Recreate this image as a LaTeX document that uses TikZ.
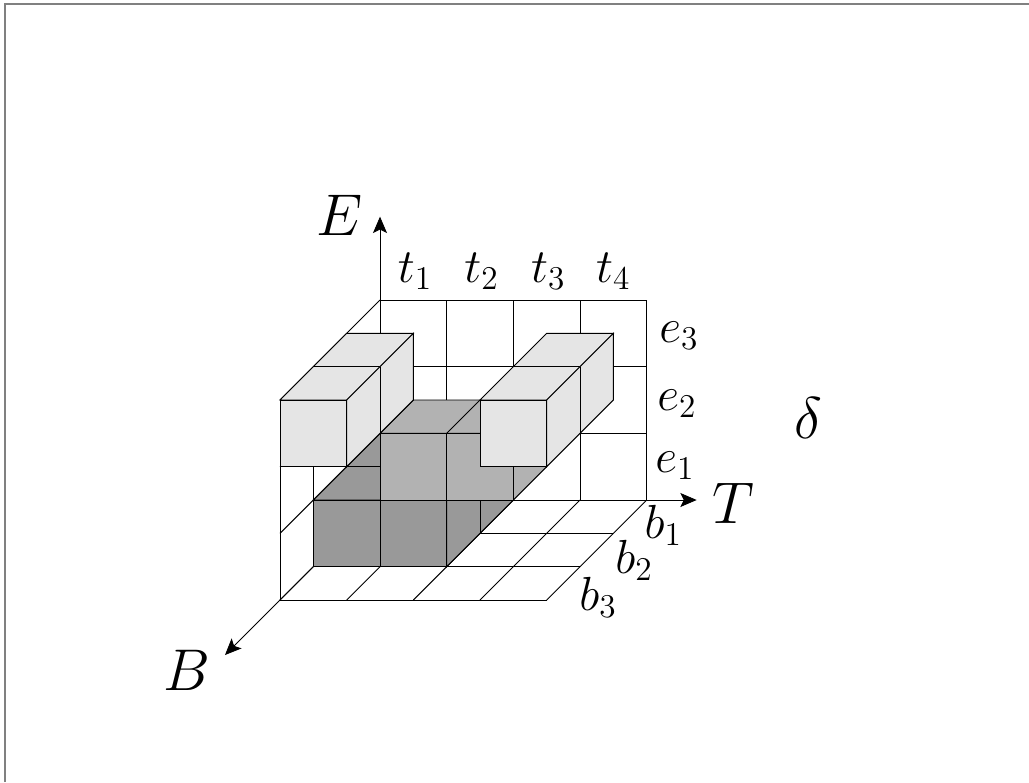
\documentclass[tikz,border=0pt]{standalone}
\usepackage{amsmath,amssymb}
\usetikzlibrary{arrows.meta}

\begin{document}
\begin{tikzpicture}[
    x={(2cm,0cm)}, y={(0cm,2cm)}, z={(-1cm,-1cm)},
    gridline/.style={draw=black, line width=0.8pt},
    lowcube/.style={draw=black, line width=0.8pt, fill=black!40},
    midcube/.style={draw=black, line width=0.8pt, fill=black!30},
    topcube/.style={draw=black, line width=0.8pt, fill=black!10},
    axis/.style={-{Stealth[length=14pt,width=12pt,inset=3pt]}, line width=0.7pt},
    biglabel/.style={inner sep=0pt, font=\Huge, scale=2.02, transform shape},
    smalllabel/.style={inner sep=0pt, font=\huge, scale=1.97, transform shape}
]
\useasboundingbox (-11.4cm,-8.46cm) rectangle (19.47cm,15cm);
\draw[gray, line width=1pt] (-11.25cm,-8.46cm) -- (-11.25cm,14.88cm) -- (19.47cm,14.88cm);

% back wall, floor and left wall
\foreach \t in {0,...,4} {
    \draw[gridline] (\t,0,0) -- (\t,3,0);
    \draw[gridline] (\t,0,0) -- (\t,0,3);
}
\foreach \e in {0,...,3} {
    \draw[gridline] (0,\e,0) -- (4,\e,0);
    \draw[gridline] (0,\e,0) -- (0,\e,3);
}
\foreach \b in {1,2,3} {
    \draw[gridline] (0,0,\b) -- (4,0,\b);
    \draw[gridline] (0,0,\b) -- (0,3,\b);
}

% lower cubes
\filldraw[lowcube] (0,1,2) -- (0,1,0) -- (2,1,0) -- (2,1,2) -- cycle;
\draw[gridline] (0,1,1) -- (2,1,1);
\filldraw[lowcube] (2,0,2) -- (2,0,0) -- (2,1,0) -- (2,1,2) -- cycle;
\draw[gridline] (2,0,1) -- (2,1,1);
\filldraw[lowcube] (0,0,2) rectangle (2,1,2);
\draw[gridline] (1,0,2) -- (1,1,2);

% upper cubes
\filldraw[midcube] (1,2,2) -- (1,2,1) -- (3,2,1) -- (3,2,2) -- cycle;
\draw[gridline] (2,2,1) -- (2,2,2);
\filldraw[midcube] (3,1,2) -- (3,1,1) -- (3,2,1) -- (3,2,2) -- cycle;
\filldraw[midcube] (1,1,2) rectangle (3,2,2);
\draw[gridline] (2,1,2) -- (2,2,2);

% light cubes
\foreach \t in {0,3} {
    \filldraw[topcube] (\t,3,3) -- (\t,3,1) -- (\t+1,3,1) -- (\t+1,3,3) -- cycle;
    \draw[gridline] (\t,3,2) -- (\t+1,3,2);
    \filldraw[topcube] (\t+1,2,3) -- (\t+1,2,1) -- (\t+1,3,1) -- (\t+1,3,3) -- cycle;
    \draw[gridline] (\t+1,2,2) -- (\t+1,3,2);
    \filldraw[topcube] (\t,2,3) rectangle (\t+1,3,3);
}

% axes
\coordinate (corner) at (0,0,3);
\coordinate (right) at (4,0,0);
\coordinate (top) at (0,3,0);
\coordinate (endT) at (9.5cm,0cm);
\coordinate (endE) at (0cm,8.5cm);
\coordinate (endB) at (-4.65cm,-4.65cm);
\draw[axis] (right) -- (endT);
\draw[axis] (top) -- (endE);
\draw[axis] (corner) -- (endB);
\node[biglabel] (labelE) at (-1.2cm,8.55cm) {$E$};
\node[biglabel] (labelT) at (10.6cm,-0.1cm) {$T$};
\node[biglabel] (labelB) at (-5.8cm,-5.1cm) {$B$};
\node[biglabel] (labeld) at (12.85cm,2.46cm) {$\delta$};

\foreach \i/\x in {1/1.05,2/3.05,3/5.05,4/7.0} {
    \node[smalllabel] (t\i) at (\x cm,6.85cm) {$t_\i$};
}
\node[smalllabel] (e3) at (8.97cm,4.93cm) {$e_3$};
\node[smalllabel] (e2) at (8.91cm,2.88cm) {$e_2$};
\node[smalllabel] (e1) at (8.85cm,1.03cm) {$e_1$};
\node[smalllabel] (b1) at (8.5cm,-0.75cm) {$b_1$};
\node[smalllabel] (b2) at (7.62cm,-1.8cm) {$b_2$};
\node[smalllabel] (b3) at (6.54cm,-2.91cm) {$b_3$};
\end{tikzpicture}
\end{document}
